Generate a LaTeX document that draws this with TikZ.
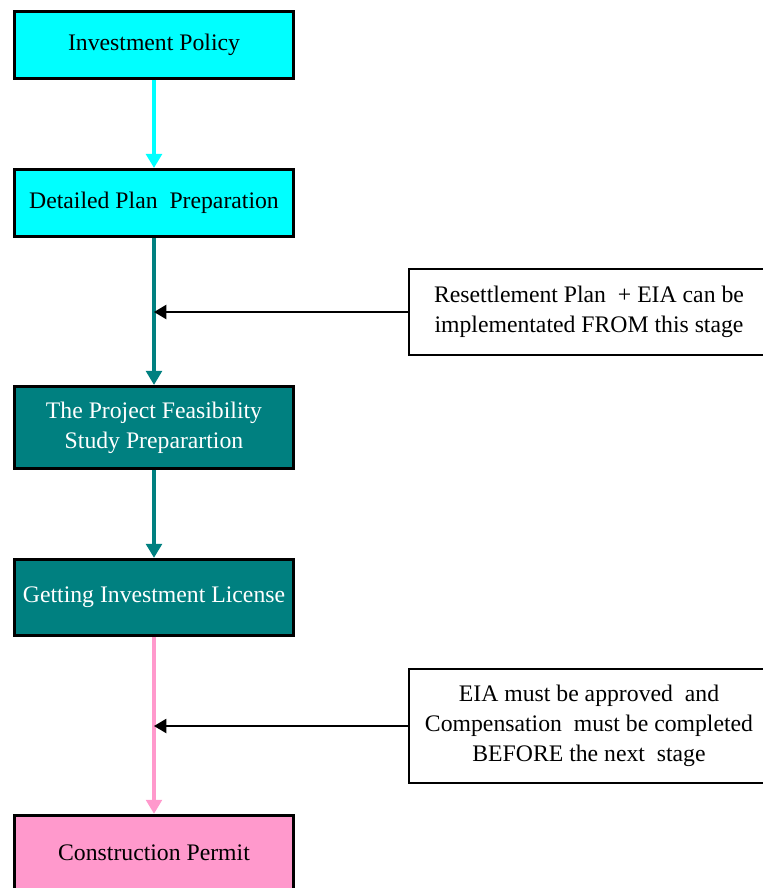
\documentclass[tikz,border=0pt]{standalone}
\usepackage{fontspec}
\setmainfont{Liberation Serif}
\usetikzlibrary{positioning,arrows.meta}
\definecolor{stepCyan}{HTML}{00FFFF}
\definecolor{stepTeal}{HTML}{008080}
\definecolor{stepPink}{HTML}{FF99CC}

\begin{document}
\begin{tikzpicture}[
    x=0.02cm, y=-0.02cm,
    stagebox/.style={draw, line width=1.7pt, minimum width=5.58cm, align=center,
                     font=\fontsize{13.5}{17}\selectfont, inner sep=2pt},
    notebox/.style={draw, line width=1.5pt, minimum width=7.2cm, align=center,
                    font=\fontsize{13.5}{17}\selectfont, fill=white},
    flowarr/.style={line width=1.8pt, -{Triangle[width=9pt,length=8pt]}},
    notearr/.style={line width=1.1pt, -{Triangle[width=8pt,length=7pt]}},
  ]
  \useasboundingbox (0,0) rectangle (762,888);

  % Stages
  \node[stagebox, fill=stepCyan, minimum height=1.34cm] (policy) at (154,45) {Investment Policy};
  \node[stagebox, fill=stepCyan, minimum height=1.34cm, below=1.76cm of policy] (plan) {Detailed Plan~ Preparation};
  \node[stagebox, fill=stepTeal, text=white, minimum height=1.64cm, below=2.94cm of plan] (study) {The Project Feasibility\\Study Preparartion};
  \node[stagebox, fill=stepTeal, text=white, minimum height=1.52cm, below=1.76cm of study] (license) {Getting Investment License};
  \node[stagebox, fill=stepPink, minimum height=1.5cm, below=3.54cm of license] (permit) {Construction Permit};

  % Notes
  \node[notebox, minimum height=1.72cm] (resettle) at (589,312) {Resettlement Plan~ + EIA can be\\implementated FROM this stage};
  \node[notebox, minimum height=2.28cm] (approve) at (589,726) {EIA must be approved~ and\\Compensation~ must be completed\\BEFORE the next~ stage};

  \draw[flowarr, stepCyan] (policy) -- (plan);
  \draw[flowarr, stepTeal] (plan) -- (study);
  \draw[flowarr, stepTeal] (study) -- (license);
  \draw[flowarr, stepPink] (license) -- (permit);

  \draw[notearr] (resettle.west) -- (resettle.west -| plan.south);
  \draw[notearr] (approve.west) -- (approve.west -| license.south);

\end{tikzpicture}
\end{document}
